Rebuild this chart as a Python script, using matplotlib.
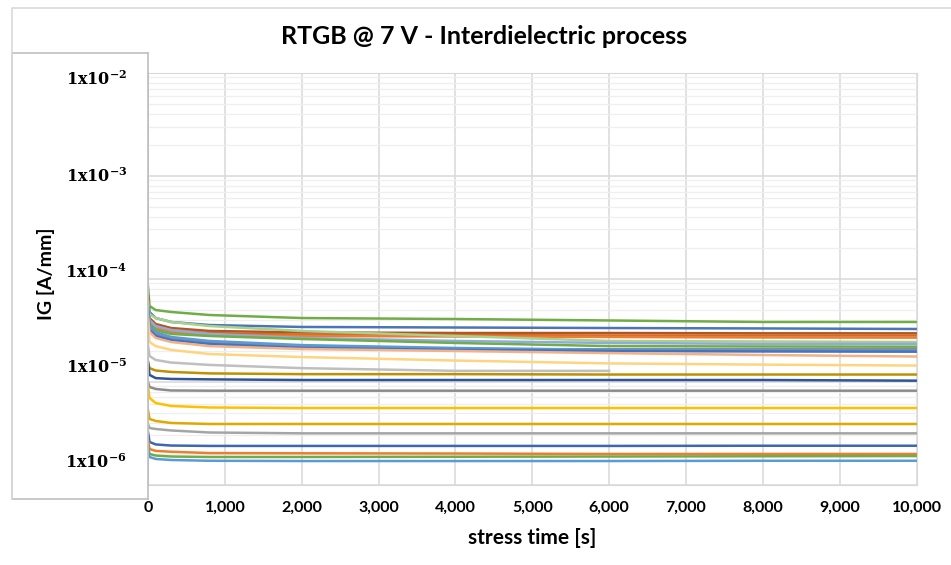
import numpy as np
import matplotlib
matplotlib.use("Agg")
import matplotlib.pyplot as plt
from matplotlib.ticker import FuncFormatter, LogLocator, NullFormatter
from matplotlib.lines import Line2D

plt.rcParams["mathtext.fontset"] = "dejavuserif"

# stress time samples [s]
stress_time = [0, 20, 100, 300, 800, 2000, 4000, 6000, 8000, 10000]

# gate current per device [A/mm]
ig_01 = [8.47e-5, 5.42e-5, 4.95e-5, 4.74e-5, 4.43e-5, 4.14e-5, 4.05e-5, 3.92e-5, 3.79e-5, 3.79e-5]
ig_02 = [6.48e-5, 4.74e-5, 4.14e-5, 3.79e-5, 3.54e-5, 3.39e-5, 3.35e-5, 3.31e-5, 3.28e-5, 3.24e-5]
ig_03 = [6.78e-5, 4.14e-5, 3.62e-5, 3.31e-5, 3.10e-5, 3.00e-5, 2.96e-5, 2.96e-5, 2.94e-5, 2.94e-5]
ig_04 = [6.20e-5, 3.96e-5, 3.46e-5, 3.17e-5, 2.96e-5, 2.86e-5, 2.83e-5, 2.80e-5, 2.80e-5, 2.80e-5]
ig_05 = [6.20e-5, 3.79e-5, 3.31e-5, 3.03e-5, 2.83e-5, 2.77e-5, 2.74e-5, 2.71e-5, 2.68e-5, 2.67e-5]
ig_06 = [5.92e-5, 4.53e-5, 4.14e-5, 3.79e-5, 3.46e-5, 3.10e-5, 2.77e-5, 2.48e-5, 2.45e-5, 2.42e-5]
ig_07 = [5.54e-5, 3.96e-5, 3.46e-5, 3.17e-5, 2.90e-5, 2.65e-5, 2.48e-5, 2.37e-5, 2.32e-5, 2.32e-5]
ig_08 = [5.67e-5, 3.62e-5, 3.17e-5, 2.90e-5, 2.77e-5, 2.59e-5, 2.37e-5, 2.21e-5, 2.19e-5, 2.18e-5]
ig_09 = [4.95e-5, 3.31e-5, 2.90e-5, 2.65e-5, 2.42e-5, 2.21e-5, 2.07e-5, 2.06e-5, 2.06e-5, 2.06e-5]
ig_10 = [5.42e-5, 3.46e-5, 3.03e-5, 2.71e-5, 2.48e-5, 2.26e-5, 2.12e-5, 2.03e-5, 2.00e-5, 1.99e-5]
ig_11 = [4.74e-5, 3.17e-5, 2.77e-5, 2.53e-5, 2.32e-5, 2.12e-5, 2.03e-5, 1.98e-5, 1.96e-5, 1.95e-5]
ig_12 = [4.43e-5, 3.03e-5, 2.65e-5, 2.42e-5, 2.21e-5, 2.07e-5, 1.98e-5, 1.89e-5, 1.81e-5, 1.75e-5]
ig_13 = [3.96e-5, 2.42e-5, 2.21e-5, 2.03e-5, 1.85e-5, 1.73e-5, 1.60e-5, 1.50e-5, 1.46e-5, 1.43e-5]
ig_14 = [2.26e-5, 1.77e-5, 1.62e-5, 1.53e-5, 1.45e-5, 1.35e-5, 1.27e-5, 1.27e-5, np.nan, np.nan]
ig_15 = [1.55e-5, 1.35e-5, 1.28e-5, 1.24e-5, 1.20e-5, 1.18e-5, 1.18e-5, 1.17e-5, 1.17e-5, 1.17e-5]
ig_16 = [1.55e-5, 1.16e-5, 1.08e-5, 1.06e-5, 1.05e-5, 1.035e-5, 1.035e-5, 1.035e-5, 1.035e-5, 1.02e-5]
ig_17 = [9.90e-6, 8.85e-6, 8.47e-6, 8.19e-6, 8.15e-6, 8.15e-6, 8.15e-6, 8.15e-6, 8.15e-6, 8.15e-6]
ig_18 = [9.05e-6, 6.92e-6, 6.19e-6, 5.79e-6, 5.60e-6, 5.53e-6, 5.53e-6, 5.53e-6, 5.53e-6, 5.53e-6]
ig_19 = [5.29e-6, 4.33e-6, 4.14e-6, 3.96e-6, 3.87e-6, 3.87e-6, 3.87e-6, 3.87e-6, 3.87e-6, 3.87e-6]
ig_20 = [3.87e-6, 3.54e-6, 3.46e-6, 3.35e-6, 3.20e-6, 3.14e-6, 3.14e-6, 3.14e-6, 3.14e-6, 3.14e-6]
ig_21 = [3.24e-6, 2.59e-6, 2.45e-6, 2.39e-6, 2.37e-6, 2.37e-6, 2.37e-6, 2.37e-6, 2.38e-6, 2.38e-6]
ig_22 = [2.71e-6, 2.21e-6, 2.12e-6, 2.08e-6, 2.02e-6, 2.01e-6, 2.00e-6, 1.98e-6, 1.98e-6, 1.98e-6]
ig_23 = [2.37e-6, 1.98e-6, 1.91e-6, 1.87e-6, 1.85e-6, 1.85e-6, 1.86e-6, 1.87e-6, 1.88e-6, 1.89e-6]
ig_24 = [2.21e-6, 1.85e-6, 1.77e-6, 1.73e-6, 1.70e-6, 1.69e-6, 1.69e-6, 1.69e-6, 1.70e-6, 1.70e-6]

series = [ig_01, ig_02, ig_03, ig_04, ig_05, ig_06, ig_07, ig_08, ig_09, ig_10, ig_11, ig_12,
          ig_13, ig_14, ig_15, ig_16, ig_17, ig_18, ig_19, ig_20, ig_21, ig_22, ig_23, ig_24]
colors = ["#70AD47", "#4A76B8", "#B2561E", "#D46A2A", "#ED7D31", "#A9D18E", "#8FAADC", "#70AD47",
          "#8C8C8C", "#5B9BD5", "#4472C4", "#F4B183", "#FFD47F", "#BFBFBF", "#BF9000", "#2F5597",
          "#8C8C8C", "#FFC000", "#E0A800", "#A5A5A5", "#3E67B1", "#ED7D31", "#70AD47", "#5B9BD5"]

ytick_text = [r"$\mathbf{1x10^{-2}}$", r"$\mathbf{1x10^{-3}}$", r"$\mathbf{1x10^{-4}}$",
              r"$\mathbf{1x10^{-5}}$", r"$\mathbf{1x10^{-6}}$"]

W, H = 951, 565
fig = plt.figure(figsize=(W / 100, H / 100), dpi=100)

ax = fig.add_axes([148 / W, 1 - 484.5 / H, 768.5 / W, 411.8 / H])
for s, c in zip(series, colors):
    ax.plot(stress_time, s, color=c, lw=1.8, solid_joinstyle="miter")

ax.set_yscale("log")
ax.set_ylim(1e-6, 1e-2)
ax.set_xlim(0, 10000)
ax.set_xticks(np.arange(0, 10001, 1000))
ax.xaxis.set_major_formatter(FuncFormatter(lambda v, p: f"{v:,.0f}"))
ax.yaxis.set_major_locator(LogLocator(base=10, numticks=10))
ax.yaxis.set_minor_locator(LogLocator(base=10, subs=np.arange(2, 10), numticks=20))
ax.yaxis.set_major_formatter(NullFormatter())
ax.yaxis.set_minor_formatter(NullFormatter())
ax.tick_params(axis="both", which="both", length=0)
ax.tick_params(axis="x", pad=12)
ax.grid(True, which="major", color="#D9D9D9", lw=1.1)
ax.grid(True, which="minor", axis="y", color="#EFEFEF", lw=0.9)
ax.set_axisbelow(True)
for side in ["top", "right", "bottom"]:
    ax.spines[side].set_color("#D9D9D9")
ax.spines["left"].set_color("#BFBFBF")
ax.spines["left"].set_linewidth(1.3)

for lab in ax.get_xticklabels():
    lab.set_fontfamily("Lato")
    lab.set_fontweight("bold")
    lab.set_fontsize(11.5)

ax.set_xlabel("stress time [s]", fontfamily="Lato", fontweight="bold", fontsize=15, labelpad=9)
fig.text(484 / W, 1 - 37 / H, "RTGB @ 7 V - Interdielectric process", ha="center", va="center",
         fontfamily="Lato", fontweight="bold", fontsize=18)

# outer chart frame (top and left edges)
fig.add_artist(Line2D([12 / W, 12 / W, 1.0], [1 - 499 / H, 1 - 7.5 / H, 1 - 7.5 / H],
                      transform=fig.transFigure, color="#D9D9D9", lw=1.2))

# overlay box holding the y labels
box = fig.add_axes([12 / W, 1 - 499 / H, 136 / W, 446 / H])
box.set_xticks([])
box.set_yticks([])
box.patch.set_facecolor("white")
for sp in box.spines.values():
    sp.set_color("#BFBFBF")
    sp.set_linewidth(1.2)

for txt, ypix in zip(ytick_text, [79, 176, 272, 367, 462]):
    fig.text(127 / W, 1 - ypix / H, txt, ha="right", va="center", fontsize=11.5)

fig.text(46 / W, 1 - 274 / H, "IG [A/mm]", rotation=90, ha="center", va="center",
         fontfamily="Lato", fontweight="bold", fontsize=14)

fig.savefig("out.png", dpi=100)
